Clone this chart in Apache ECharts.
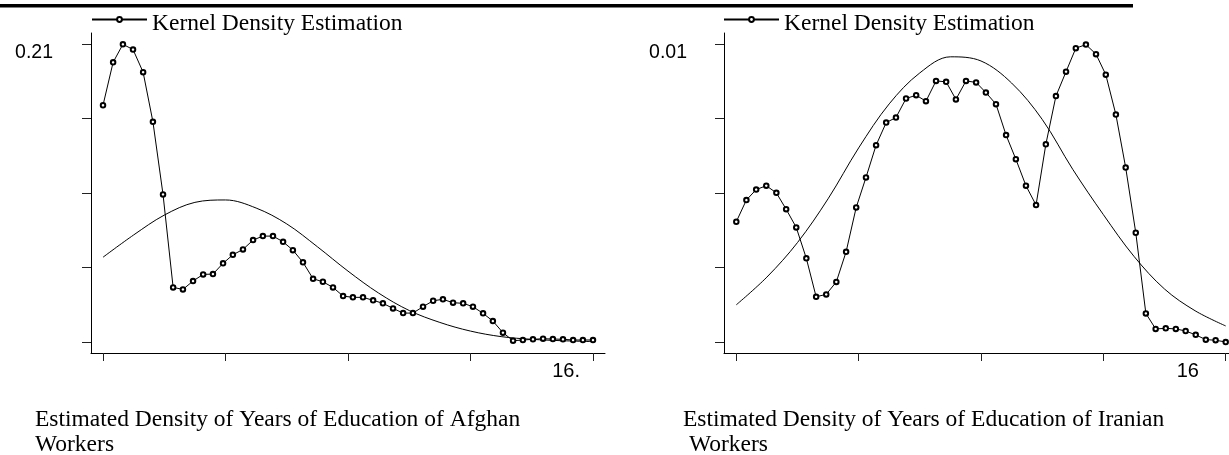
<!DOCTYPE html>
<html>
<head>
<meta charset="utf-8">
<script src="https://cdn.jsdelivr.net/npm/echarts@6/dist/echarts.min.js"></script>
<style>
  html, body { margin: 0; padding: 0; background: #fff; }
  #chart { width: 1229px; height: 455px; }
</style>
</head>
<body>
<div id="chart"></div>
<script>
// ---- data ----
const kdeX = [0, 0.33, 0.65, 0.98, 1.31, 1.63, 1.96, 2.29, 2.61, 2.94, 3.27, 3.59, 3.92, 4.24, 4.57, 4.90, 5.22, 5.55, 5.88, 6.20,
  6.53, 6.86, 7.18, 7.51, 7.84, 8.16, 8.49, 8.82, 9.14, 9.47, 9.80, 10.12, 10.45, 10.78, 11.10, 11.43, 11.76, 12.08, 12.41, 12.73,
  13.06, 13.39, 13.71, 14.04, 14.37, 14.69, 15.02, 15.35, 15.67, 16.00];

const afghanKde = [0.1670, 0.1973, 0.2100, 0.2063, 0.1903, 0.1553, 0.1041, 0.0385, 0.0371, 0.0430,
  0.0477, 0.0479, 0.0555, 0.0615, 0.0653, 0.0719, 0.0747, 0.0747, 0.0707, 0.0648,
  0.0562, 0.0446, 0.0425, 0.0385, 0.0324, 0.0315, 0.0315, 0.0294, 0.0273, 0.0237,
  0.0204, 0.0204, 0.0249, 0.0291, 0.0301, 0.0277, 0.0273, 0.0249, 0.0202, 0.0148,
  0.0066, 0.0009, 0.0014, 0.0019, 0.0023, 0.0021, 0.0019, 0.0014, 0.0014, 0.0014];

const iranianKde = [0.00404, 0.00477, 0.00512, 0.00525, 0.00501, 0.00446, 0.00385, 0.00281, 0.00152, 0.00160,
  0.00202, 0.00303, 0.00452, 0.00553, 0.00661, 0.00737, 0.00754, 0.00818, 0.00829, 0.00809,
  0.00877, 0.00874, 0.00815, 0.00877, 0.00872, 0.00838, 0.00799, 0.00695, 0.00614, 0.00525,
  0.00460, 0.00664, 0.00826, 0.00908, 0.00987, 0.00999, 0.00967, 0.00898, 0.00764, 0.00586,
  0.00367, 0.00096, 0.00044, 0.00046, 0.00044, 0.00037, 0.00024, 0.00008, 0.00006, 0.00000];

const normX = [0, 1, 2, 3, 4, 5, 6, 7, 8, 9, 10, 11, 12, 13, 14, 15, 16];
const afghanNormal = [0.0598, 0.0755, 0.0895, 0.0985, 0.1002, 0.0945, 0.0833, 0.0672, 0.0500, 0.0345,
  0.0222, 0.0138, 0.0077, 0.0038, 0.0019, 0.0009, 0.0003];
const iranianNormal = [0.00125, 0.00218, 0.00334, 0.00481, 0.00652, 0.00800, 0.00904, 0.00958, 0.00944, 0.00870,
  0.00748, 0.00580, 0.00428, 0.00288, 0.00178, 0.00105, 0.00054];

const xTicks = [0, 4, 8, 12, 16];
const xLabelValues = [16];
const afghanXLabelText = '16.';
const iranianXLabelText = '16';
const afghanYTicks = [0, 0.0525, 0.105, 0.1575, 0.21];
const afghanYLabels = [0.21];
const iranianYTicks = [0, 0.0025, 0.005, 0.0075, 0.01];
const iranianYLabels = [0.01];

const legendName = 'Kernel Density Estimation';
const captionAfghan = 'Estimated Density of Years of Education of Afghan\nWorkers';
const captionIranian = 'Estimated Density of Years of Education of Iranian\n Workers';

// ---- chart ----
const pair = (xs, ys) => xs.map((x, i) => [x, ys[i]]);
const serif = 'Liberation Serif';
const sans = 'Liberation Sans';

function xAxisFor(gridIndex, min, max, labelText, padRight) {
  return {
    type: 'value', gridIndex, min, max,
    axisLine: { show: true, onZero: false, lineStyle: { color: '#000', width: 1 } },
    axisTick: { show: true, length: 8, customValues: xTicks, lineStyle: { color: '#222', width: 1 } },
    axisLabel: {
      show: true, customValues: xLabelValues, formatter: () => labelText,
      fontFamily: sans, fontSize: 20, color: '#000', margin: 10,
      align: 'right', verticalAlign: 'top', lineHeight: 16, padding: [0, padRight, 0, 0]
    },
    splitLine: { show: false }
  };
}
function yAxisFor(gridIndex, min, max, ticks, labels, margin) {
  return {
    type: 'value', gridIndex, min, max,
    axisLine: { show: true, onZero: false, lineStyle: { color: '#000', width: 1 } },
    axisTick: { show: true, length: 9, customValues: ticks, lineStyle: { color: '#222', width: 1 } },
    axisLabel: {
      show: true, customValues: labels, formatter: (v) => v.toFixed(2),
      fontFamily: sans, fontSize: 19.5, color: '#000', margin,
      verticalAlign: 'top', lineHeight: 16
    },
    splitLine: { show: false }
  };
}

const kdeSeries = (xi, yi, ys) => ({
  name: legendName, type: 'line', xAxisIndex: xi, yAxisIndex: yi,
  data: pair(kdeX, ys), symbol: 'emptyCircle', symbolSize: 4.5, showAllSymbol: true,
  lineStyle: { color: '#000', width: 1 },
  itemStyle: { color: '#000', borderColor: '#000', borderWidth: 1 },
  emphasis: { disabled: true }, z: 3
});
const normSeries = (xi, yi, ys) => ({
  name: 'Normal density', type: 'line', xAxisIndex: xi, yAxisIndex: yi,
  data: pair(normX, ys), symbol: 'none', smooth: 0.35,
  lineStyle: { color: '#000', width: 1 },
  emphasis: { disabled: true }, z: 2
});

const legendFor = (left) => ({
  data: [legendName], left, top: 3.5, padding: 0,
  itemWidth: 55, itemHeight: 6, itemGap: 0, selectedMode: false,
  formatter: '{t|{name}}',
  textStyle: {
    fontFamily: serif, fontSize: 23.5, color: '#000',
    rich: { t: { fontFamily: serif, fontSize: 23.5, color: '#000', lineHeight: 24, padding: [8, 0, 0, 0] } }
  }
});

const chart = echarts.init(document.getElementById('chart'), null, { renderer: 'canvas' });
chart.setOption({
  animation: false,
  backgroundColor: '#fff',
  graphic: [{ type: 'rect', left: 0, top: 4, shape: { width: 1133, height: 3.5 }, style: { fill: '#000' } }],
  title: [
    { text: captionAfghan, left: 35, top: 407, padding: 0,
      textStyle: { fontFamily: serif, fontSize: 23.5, fontWeight: 'normal', color: '#000', lineHeight: 25 } },
    { text: captionIranian, left: 683, top: 407, padding: 0,
      textStyle: { fontFamily: serif, fontSize: 23.5, fontWeight: 'normal', color: '#000', lineHeight: 25 } }
  ],
  legend: [legendFor(91), legendFor(723)],
  grid: [
    { left: 91, top: 33, width: 514, height: 320 },
    { left: 724, top: 33, width: 505, height: 320 }
  ],
  xAxis: [
    xAxisFor(0, -0.392, 16.392, afghanXLabelText, 13),
    xAxisFor(1, -0.402, 16.108, iranianXLabelText, 26.7)
  ],
  yAxis: [
    yAxisFor(0, -0.00776, 0.21797, afghanYTicks, afghanYLabels, 38),
    yAxisFor(1, -0.000369, 0.01038, iranianYTicks, iranianYLabels, 37)
  ],
  series: [
    normSeries(0, 0, afghanNormal),
    kdeSeries(0, 0, afghanKde),
    normSeries(1, 1, iranianNormal),
    kdeSeries(1, 1, iranianKde)
  ]
});
</script>
</body>
</html>
